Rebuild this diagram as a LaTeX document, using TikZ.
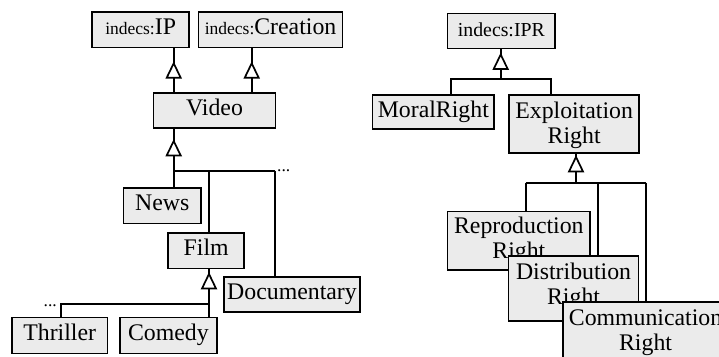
\documentclass[tikz,border=0pt]{standalone}
\usepackage{fontspec}
\setmainfont{Liberation Serif}
\newcommand\bigf{\fontsize{23.8}{25}\selectfont}
\newcommand\smallf{\fontsize{17.5}{18}\selectfont}
\newcommand\iprf{\fontsize{19.8}{20}\selectfont}
\definecolor{boxfill}{RGB}{235,235,235}
\tikzset{
  box/.style={draw, line width=1.7pt, fill=boxfill, inner sep=0pt, anchor=north west},
  lbl/.style={anchor=base, inner sep=0pt, font=\bigf},
  conn/.style={line width=1.7pt},
  dots/.style={inner sep=0pt, font=\smallf},
  tri/.pic={\draw[line width=1.7pt, fill=white] (0,0) -- (-7,14.5) -- (7,14.5) -- cycle;}
}
\begin{document}
\begin{tikzpicture}[x=1pt,y=-1pt]
\path[use as bounding box] (0,0) rectangle (719,356);
\clip (0,0) rectangle (719,356);
% ---------- boxes (left tree) ----------
\node[box, minimum width=97pt, minimum height=35.7pt] (ip) at (91.3,11) {};
\node[box, minimum width=144pt, minimum height=35.7pt] (creation) at (197.7,11) {};
\node[box, minimum width=122pt, minimum height=35.3pt] (video) at (152.7,92) {};
\node[box, minimum width=77.3pt, minimum height=35.4pt] (news) at (122.7,187.3) {};
\node[box, minimum width=76pt, minimum height=35.7pt] (film) at (167.3,232) {};
\node[box, minimum width=135.7pt, minimum height=35pt] (doc) at (223.3,276) {};
\node[box, minimum width=95.7pt, minimum height=36pt] (thriller) at (11,316.7) {};
\node[box, minimum width=97pt, minimum height=36pt] (comedy) at (119,316.7) {};
% ---------- boxes (right tree, top) ----------
\node[box, minimum width=107.6pt, minimum height=35pt] (ipr) at (446.7,12.7) {};
\node[box, minimum width=121.6pt, minimum height=34.3pt] (moral) at (371.7,94) {};
\node[box, minimum width=130pt, minimum height=58.3pt] (exploit) at (508.3,94) {};
% ---------- bus coordinates ----------
\coordinate (vbusL) at (173.7,170.7);
\coordinate (vbusR) at (274.7,170.7);
\coordinate (vbusF) at (209,170.7);
\coordinate (fbusL) at (61,304);
\coordinate (fbusR) at (209,304);
\coordinate (ibusL) at (450.7,79);
\coordinate (ibusM) at (500.7,79);
\coordinate (ibusR) at (551,79);
\coordinate (ebusL) at (525.7,182.7);
\coordinate (ebusM) at (576,182.7);
\coordinate (ebusD) at (598.3,182.7);
\coordinate (ebusR) at (645.7,182.7);
\coordinate (ipx) at (173.7,0);
\coordinate (crx) at (251.7,0);
% ---------- connectors ----------
\draw[conn] (video.north -| ipx) -- (ip.south -| ipx);
\draw[conn] (video.north -| crx) -- (creation.south -| crx);
\draw[conn] (video.south -| vbusL) -- (vbusL) -- (vbusR);
\draw[conn] (vbusL) -- (news.north -| vbusL);
\draw[conn] (vbusF) -- (film.north -| vbusF);
\draw[conn] (vbusR) -- (doc.north -| vbusR);
\draw[conn] (film.south -| fbusR) -- (comedy.north -| fbusR);
\draw[conn] (fbusR) -- (fbusL) -- (thriller.north -| fbusL);
\draw[conn] (ipr.south -| ibusM) -- (ibusM);
\draw[conn] (moral.north -| ibusL) -- (ibusL) -- (ibusR) -- (exploit.north -| ibusR);
\draw[conn] (exploit.south -| ebusM) -- (ebusM);
\draw[conn] (ebusL) -- (ebusR);
% ---------- generalisation triangles ----------
\pic at (173.7,63.3) {tri};
\pic at (251.7,63.3) {tri};
\pic at (173.7,141) {tri};
\pic at (209,274) {tri};
\pic at (500.7,54.5) {tri};
\pic at (576,157) {tri};
% ---------- ellipses ----------
\node[dots, anchor=base west] (vdots) at (277,171.5) {...};
\node[dots, anchor=base east] (fdots) at (57,306) {...};
% ---------- labels (left & top right) ----------
\node[lbl] (ipT) at ([yshift=-23.5pt]ip.north) {{\smallf indecs:}IP};
\node[lbl] (creationT) at ([yshift=-23.5pt]creation.north) {{\smallf indecs:}Creation};
\node[lbl] (videoT) at ([yshift=-23.5pt]video.north) {Video};
\node[lbl] (newsT) at ([yshift=-23.5pt]news.north) {News};
\node[lbl] (filmT) at ([yshift=-23.5pt]film.north) {Film};
\node[lbl] (docT) at ([yshift=-23.5pt]doc.north) {Documentary};
\node[lbl] (thrillerT) at ([yshift=-23.5pt]thriller.north) {Thriller};
\node[lbl] (comedyT) at ([yshift=-23.5pt]comedy.north) {Comedy};
\node[lbl, font=\iprf] (iprT) at ([yshift=-24pt]ipr.north) {indecs:IPR};
\node[lbl] (moralT) at ([yshift=-23.5pt]moral.north) {MoralRight};
\node[lbl] (exploitT) at ([yshift=-24.3pt]exploit.north) {\begin{tabular}[t]{@{}c@{}}Exploitation\\Right\end{tabular}};
% ---------- lower right: overlapping boxes ----------
\draw[conn] (ebusL) -- (ebusL |- 0,210.7);
\draw[conn] (ebusD) -- (ebusD |- 0,255.3);
\draw[conn] (ebusR) -- (ebusR |- 0,301);
\node[box, minimum width=142.6pt, minimum height=58.6pt] (repro) at (446.7,210.7) {};
\node[lbl] (reproT) at ([yshift=-22.8pt]repro.north) {\begin{tabular}[t]{@{}c@{}}Reproduction\\Right\end{tabular}};
\node[box, minimum width=130pt, minimum height=64.7pt] (distr) at (507.7,255.3) {};
\node[lbl] (distrT) at ([yshift=-23.7pt]distr.north) {\begin{tabular}[t]{@{}c@{}}Distribution\\Right\end{tabular}};
\node[box, minimum width=164.8pt, minimum height=64pt] (comm) at (562.3,301) {};
\node[lbl] (commT) at ([yshift=-24pt]comm.north) {\begin{tabular}[t]{@{}c@{}}Communication\\Right\end{tabular}};
\end{tikzpicture}
\end{document}
